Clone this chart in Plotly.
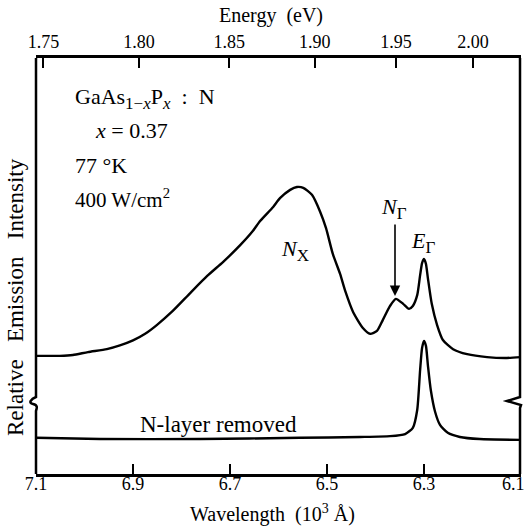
import plotly.graph_objects as go

# ---- data (wavelength in 10^3 Angstrom, intensity in arbitrary units) ----
wl_n = [7.100, 7.051, 7.024, 6.993, 6.954, 6.927, 6.900, 6.875, 6.851, 6.818,
        6.782, 6.747, 6.714, 6.679, 6.653, 6.638, 6.611, 6.597, 6.576, 6.562,
        6.549, 6.531, 6.514, 6.502, 6.488, 6.473, 6.463, 6.446, 6.426, 6.411,
        6.397, 6.385, 6.370, 6.358, 6.343, 6.331, 6.323, 6.314, 6.308, 6.304,
        6.300, 6.296, 6.292, 6.284, 6.273, 6.261, 6.240, 6.211, 6.170, 6.129,
        6.100]
int_n = [28.4, 28.4, 28.6, 29.3, 30.0, 30.9, 32.1, 33.7, 35.8, 39.2,
         43.5, 47.6, 51.0, 55.0, 58.4, 60.8, 64.2, 66.3, 68.3, 69.0,
         68.8, 67.1, 63.0, 59.1, 52.9, 48.1, 44.2, 38.9, 35.1, 33.7,
         34.4, 37.0, 40.4, 42.1, 40.9, 39.7, 40.4, 43.0, 47.8, 50.7,
         51.7, 50.5, 47.1, 40.9, 35.8, 32.2, 30.0, 28.8, 28.1, 27.9,
         28.1]

wl_removed = [7.100, 6.968, 6.762, 6.556, 6.432, 6.370, 6.339, 6.323, 6.314, 6.308,
              6.304, 6.300, 6.296, 6.292, 6.286, 6.277, 6.267, 6.251, 6.226, 6.185,
              6.100]
int_removed = [8.7, 8.4, 8.4, 8.7, 8.9, 9.1, 9.6, 11.1, 15.4, 25.0,
               30.3, 32.0, 30.8, 26.2, 20.2, 14.9, 11.8, 9.9, 8.9, 8.4,
               8.2]

wl_ticks = [7.1, 6.9, 6.7, 6.5, 6.3, 6.1]
energy_ticks = [1.75, 1.80, 1.85, 1.90, 1.95, 2.00]
HC = 12.398  # eV * 10^3 Angstrom

# ---- geometry helpers (plot area in pixels) ----
L, R, T, B = 36, 521, 58, 474
W_, H_ = R - L, B - T


def px(x):
    return (x - L) / W_


def py(y):
    return (B - y) / H_


FONT = "Liberation Serif"
BLACK = "black"

fig = go.Figure()
fig.add_trace(go.Scatter(x=wl_n, y=int_n, mode="lines",
                         line=dict(color=BLACK, width=2.4, shape="spline", smoothing=0.6),
                         showlegend=False))
fig.add_trace(go.Scatter(x=wl_removed, y=int_removed, mode="lines",
                         line=dict(color=BLACK, width=2.4, shape="spline", smoothing=0.6),
                         showlegend=False))
fig.add_trace(go.Scatter(x=[], y=[], xaxis="x2", showlegend=False))

# last bottom tick label is placed separately so it stays inside the page
bottom_text = [f"{v:.1f}" for v in wl_ticks[:-1]] + [""]

fig.update_layout(
    width=528, height=527,
    margin=dict(l=L, r=528 - R, t=T, b=527 - B, autoexpand=False),
    paper_bgcolor="white", plot_bgcolor="white",
    font=dict(family=FONT, size=18, color=BLACK),
    xaxis=dict(range=[7.1, 6.1], tickvals=wl_ticks, ticktext=bottom_text,
               ticks="inside", ticklen=10, tickwidth=2, tickcolor=BLACK,
               showline=True, linewidth=2.5, linecolor=BLACK, ticklabelstandoff=-8,
               ticklabeloverflow="allow", automargin=False,
               showgrid=False, zeroline=False, tickfont=dict(size=18)),
    xaxis2=dict(overlaying="x", side="top", range=[7.1, 6.1],
                tickvals=[HC / e for e in energy_ticks],
                ticktext=[f"{e:.2f}" for e in energy_ticks],
                ticks="inside", ticklen=10, tickwidth=2, tickcolor=BLACK,
                showline=True, linewidth=2.5, linecolor=BLACK,
                ticklabeloverflow="allow", automargin=False,
                showgrid=False, zeroline=False, tickfont=dict(size=18)),
    yaxis=dict(range=[0, 100], showline=False, showticklabels=False, ticks="",
               showgrid=False, zeroline=False, automargin=False),
)

# left and right frame lines with axis-break squiggles
left_path = (f"M {px(36)},{py(58)} L {px(36)},{py(397)} "
             f"C {px(31)},{py(399)} {px(28)},{py(403)} {px(33)},{py(404)} "
             f"C {px(38)},{py(405)} {px(37)},{py(408)} {px(36)},{py(411)} "
             f"L {px(36)},{py(474)}")
right_path = (f"M {px(520)},{py(58)} L {px(520)},{py(397)} "
              f"L {px(507)},{py(401)} L {px(521)},{py(405)} "
              f"L {px(520)},{py(408)} L {px(520)},{py(474)}")
for p in (left_path, right_path):
    fig.add_shape(type="path", path=p, xref="paper", yref="paper",
                  line=dict(color=BLACK, width=2.5))


def ann(text, x, y, size=18, xanchor="center", **kw):
    fig.add_annotation(text=text, x=px(x), y=py(y), xref="paper", yref="paper",
                       showarrow=False, xanchor=xanchor, yanchor="middle",
                       font=dict(family=FONT, size=size, color=BLACK), **kw)


SUB = "<span style='font-size:17px'>"
ann(f"GaAs<sub>{SUB}1−<i>x</i></span></sub>P<sub>{SUB}<i>x</i></span></sub>  :  N",
    73, 98, size=22, xanchor="left")
ann("<i>x</i> = 0.37", 93, 130, size=22, xanchor="left")
ann("77 °K", 73, 165, size=22, xanchor="left")
ann("400 W/cm<sup>2</sup>", 73, 198, size=21, xanchor="left")
ann(f"<i>N</i><sub>{SUB}X</span></sub>", 295, 250, size=22)
ann(f"<i>N</i><sub>{SUB}Γ</span></sub>", 394, 208, size=22)
ann(f"<i>E</i><sub>{SUB}Γ</span></sub>", 423, 242, size=22)
ann("N-layer removed", 218, 424, size=23)
ann("Relative   Emission   Intensity", 15, 297, size=23, textangle=-90)
ann("Wavelength  (10<sup>3</sup> Å)", 272, 513, size=20)
ann("Energy  (eV)", 271, 15, size=20)
ann(f"{wl_ticks[-1]:.1f}", 527, 484, size=18, xanchor="right")

# arrow pointing to N_Gamma
fig.add_annotation(x=px(395), y=py(296), xref="paper", yref="paper",
                   ax=0, ay=-73, axref="pixel", ayref="pixel", text="",
                   showarrow=True, arrowhead=2, arrowsize=1.3, arrowwidth=1.6,
                   arrowcolor=BLACK)

fig.write_html("out.html")
